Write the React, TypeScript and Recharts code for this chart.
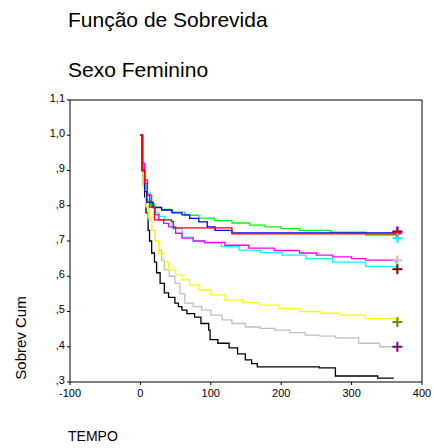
import { ComposedChart, Line, Scatter, XAxis, YAxis, ReferenceLine } from "recharts";

// pixel-read Kaplan-Meier curves (tempo, sobrevivência cumulativa)
const blackT = [0, 2, 4, 6, 8, 11, 13, 16, 20, 23, 28, 34, 40, 49, 54, 59, 66, 77, 86, 97, 99, 110, 126, 138, 149, 158, 166, 254, 277, 337, 360];
const blackS = [1.0, 0.9, 0.86, 0.825, 0.78, 0.73, 0.7, 0.666, 0.64, 0.61, 0.58, 0.553, 0.54, 0.524, 0.514, 0.504, 0.494, 0.484, 0.466, 0.447, 0.42, 0.41, 0.397, 0.38, 0.363, 0.352, 0.343, 0.34, 0.317, 0.311, 0.311];
const grayT = [0, 3, 8, 12, 16, 21, 26, 30, 34, 41, 49, 56, 63, 75, 87, 100, 116, 130, 149, 170, 191, 212, 234, 255, 277, 310, 340, 363];
const grayS = [1.0, 0.86, 0.796, 0.76, 0.73, 0.7, 0.674, 0.645, 0.618, 0.6, 0.58, 0.55, 0.524, 0.514, 0.504, 0.49, 0.476, 0.466, 0.456, 0.452, 0.447, 0.44, 0.433, 0.43, 0.425, 0.41, 0.4, 0.4];
const yellowT = [0, 4, 8, 11, 16, 21, 26, 33, 40, 50, 59, 70, 83, 100, 120, 145, 169, 197, 226, 255, 283, 320, 363];
const yellowS = [1.0, 0.85, 0.8, 0.768, 0.73, 0.7, 0.666, 0.64, 0.618, 0.604, 0.59, 0.575, 0.561, 0.547, 0.533, 0.525, 0.518, 0.508, 0.5, 0.495, 0.49, 0.48, 0.47];
const cyanT = [0, 3, 6, 9, 14, 20, 27, 34, 45, 59, 75, 91, 115, 140, 170, 201, 235, 273, 320, 363];
const cyanS = [1.0, 0.9, 0.86, 0.836, 0.8, 0.78, 0.77, 0.76, 0.735, 0.711, 0.7, 0.694, 0.684, 0.674, 0.667, 0.66, 0.65, 0.64, 0.628, 0.618];
const magentaT = [0, 3, 6, 10, 16, 21, 26, 33, 40, 50, 59, 75, 91, 120, 154, 190, 226, 250, 273, 300, 320, 363];
const magentaS = [1.0, 0.92, 0.873, 0.83, 0.796, 0.775, 0.76, 0.75, 0.74, 0.722, 0.708, 0.7, 0.696, 0.688, 0.68, 0.673, 0.666, 0.66, 0.655, 0.65, 0.646, 0.638];
const greenT = [0, 3, 6, 9, 14, 20, 30, 44, 63, 83, 105, 130, 155, 177, 200, 226, 270, 320, 363];
const greenS = [1.0, 0.9, 0.85, 0.816, 0.805, 0.796, 0.79, 0.782, 0.773, 0.765, 0.758, 0.751, 0.745, 0.74, 0.735, 0.73, 0.725, 0.717, 0.711];
const blueT = [0, 3, 6, 9, 18, 30, 45, 59, 70, 83, 95, 106, 130, 370];
const blueS = [1.0, 0.9, 0.84, 0.81, 0.795, 0.788, 0.78, 0.774, 0.764, 0.754, 0.74, 0.73, 0.723, 0.723];
const redT = [0, 3, 6, 10, 13, 20, 44, 47, 101, 130, 370];
const redS = [1.0, 0.9, 0.864, 0.83, 0.796, 0.76, 0.755, 0.737, 0.737, 0.72, 0.72];

const markerColors = ["#0000ff", "#ff0000", "#00ffff", "#c0c0c0", "#800000", "#808000", "#800080"];
const markerS = [0.727, 0.724, 0.708, 0.645, 0.62, 0.47, 0.4];

const xTicks = [-100, 0, 100, 200, 300, 400];
const yTicks = [0.3, 0.4, 0.5, 0.6, 0.7, 0.8, 0.9, 1.0, 1.1];

const series = [
  { color: "#000000", t: blackT, s: blackS },
  { color: "#c0c0c0", t: grayT, s: grayS },
  { color: "#ffff00", t: yellowT, s: yellowS },
  { color: "#00ffff", t: cyanT, s: cyanS },
  { color: "#ff00ff", t: magentaT, s: magentaS },
  { color: "#00ff00", t: greenT, s: greenS },
  { color: "#0000ff", t: blueT, s: blueS },
  { color: "#ff0000", t: redT, s: redS },
];

const fmtY = (v: number) => {
  const s = v.toFixed(1).replace(".", ",");
  return s.startsWith("0") ? s.slice(1) : s;
};

const Cross = (props: any) => {
  const { cx, cy, payload } = props;
  return (
    <g stroke={payload.color} strokeWidth={2}>
      <line x1={cx - 5} x2={cx + 5} y1={cy} y2={cy} />
      <line x1={cx} x2={cx} y1={cy - 5} y2={cy + 5} />
    </g>
  );
};

export default function App() {
  const markers = markerS.map((s, i) => ({ t: 365, s, color: markerColors[i] }));
  const font = "Arial, 'Liberation Sans', sans-serif";
  return (
    <div style={{ position: "absolute", left: 0, top: 0, width: 434, height: 448, background: "#fff", fontFamily: font }}>
      <div style={{ position: "absolute", left: 68, top: 8, fontSize: 21 }}>Função de Sobrevida</div>
      <div style={{ position: "absolute", left: 68, top: 58, fontSize: 21 }}>Sexo Feminino</div>
      <div style={{ position: "absolute", left: 68, top: 428, fontSize: 14 }}>TEMPO</div>
      <div style={{ position: "absolute", left: 20, top: 338, fontSize: 15, transform: "translate(-50%,-50%) rotate(-90deg)", whiteSpace: "nowrap" }}>Sobrev Cum</div>
      <ComposedChart width={434} height={448} margin={{ top: 100, right: 12, bottom: 46, left: 10 }} style={{ position: "absolute", left: 0, top: 0 }}>
        <XAxis type="number" dataKey="t" domain={[-100, 400]} ticks={xTicks} allowDataOverflow
          stroke="#000" tick={{ fill: "#000", fontSize: 11, fontFamily: font, dy: 2 }} tickSize={3} height={20} />
        <YAxis type="number" dataKey="s" domain={[0.3, 1.1]} ticks={yTicks} tickFormatter={fmtY} allowDataOverflow
          stroke="#000" tick={{ fill: "#000", fontSize: 11, fontFamily: font, dy: -2 }} tickSize={3} width={60} />
        <ReferenceLine y={1.1} stroke="#000" />
        <ReferenceLine x={400} stroke="#000" />
        {series.map((sr, i) => (
          <Line key={i} data={sr.t.map((t, j) => ({ t, s: sr.s[j] }))} dataKey="s" type="stepAfter"
            stroke={sr.color} strokeWidth={1.3} dot={false} isAnimationActive={false} />
        ))}
        <Scatter data={markers} dataKey="s" shape={<Cross />} isAnimationActive={false} />
      </ComposedChart>
    </div>
  );
}
